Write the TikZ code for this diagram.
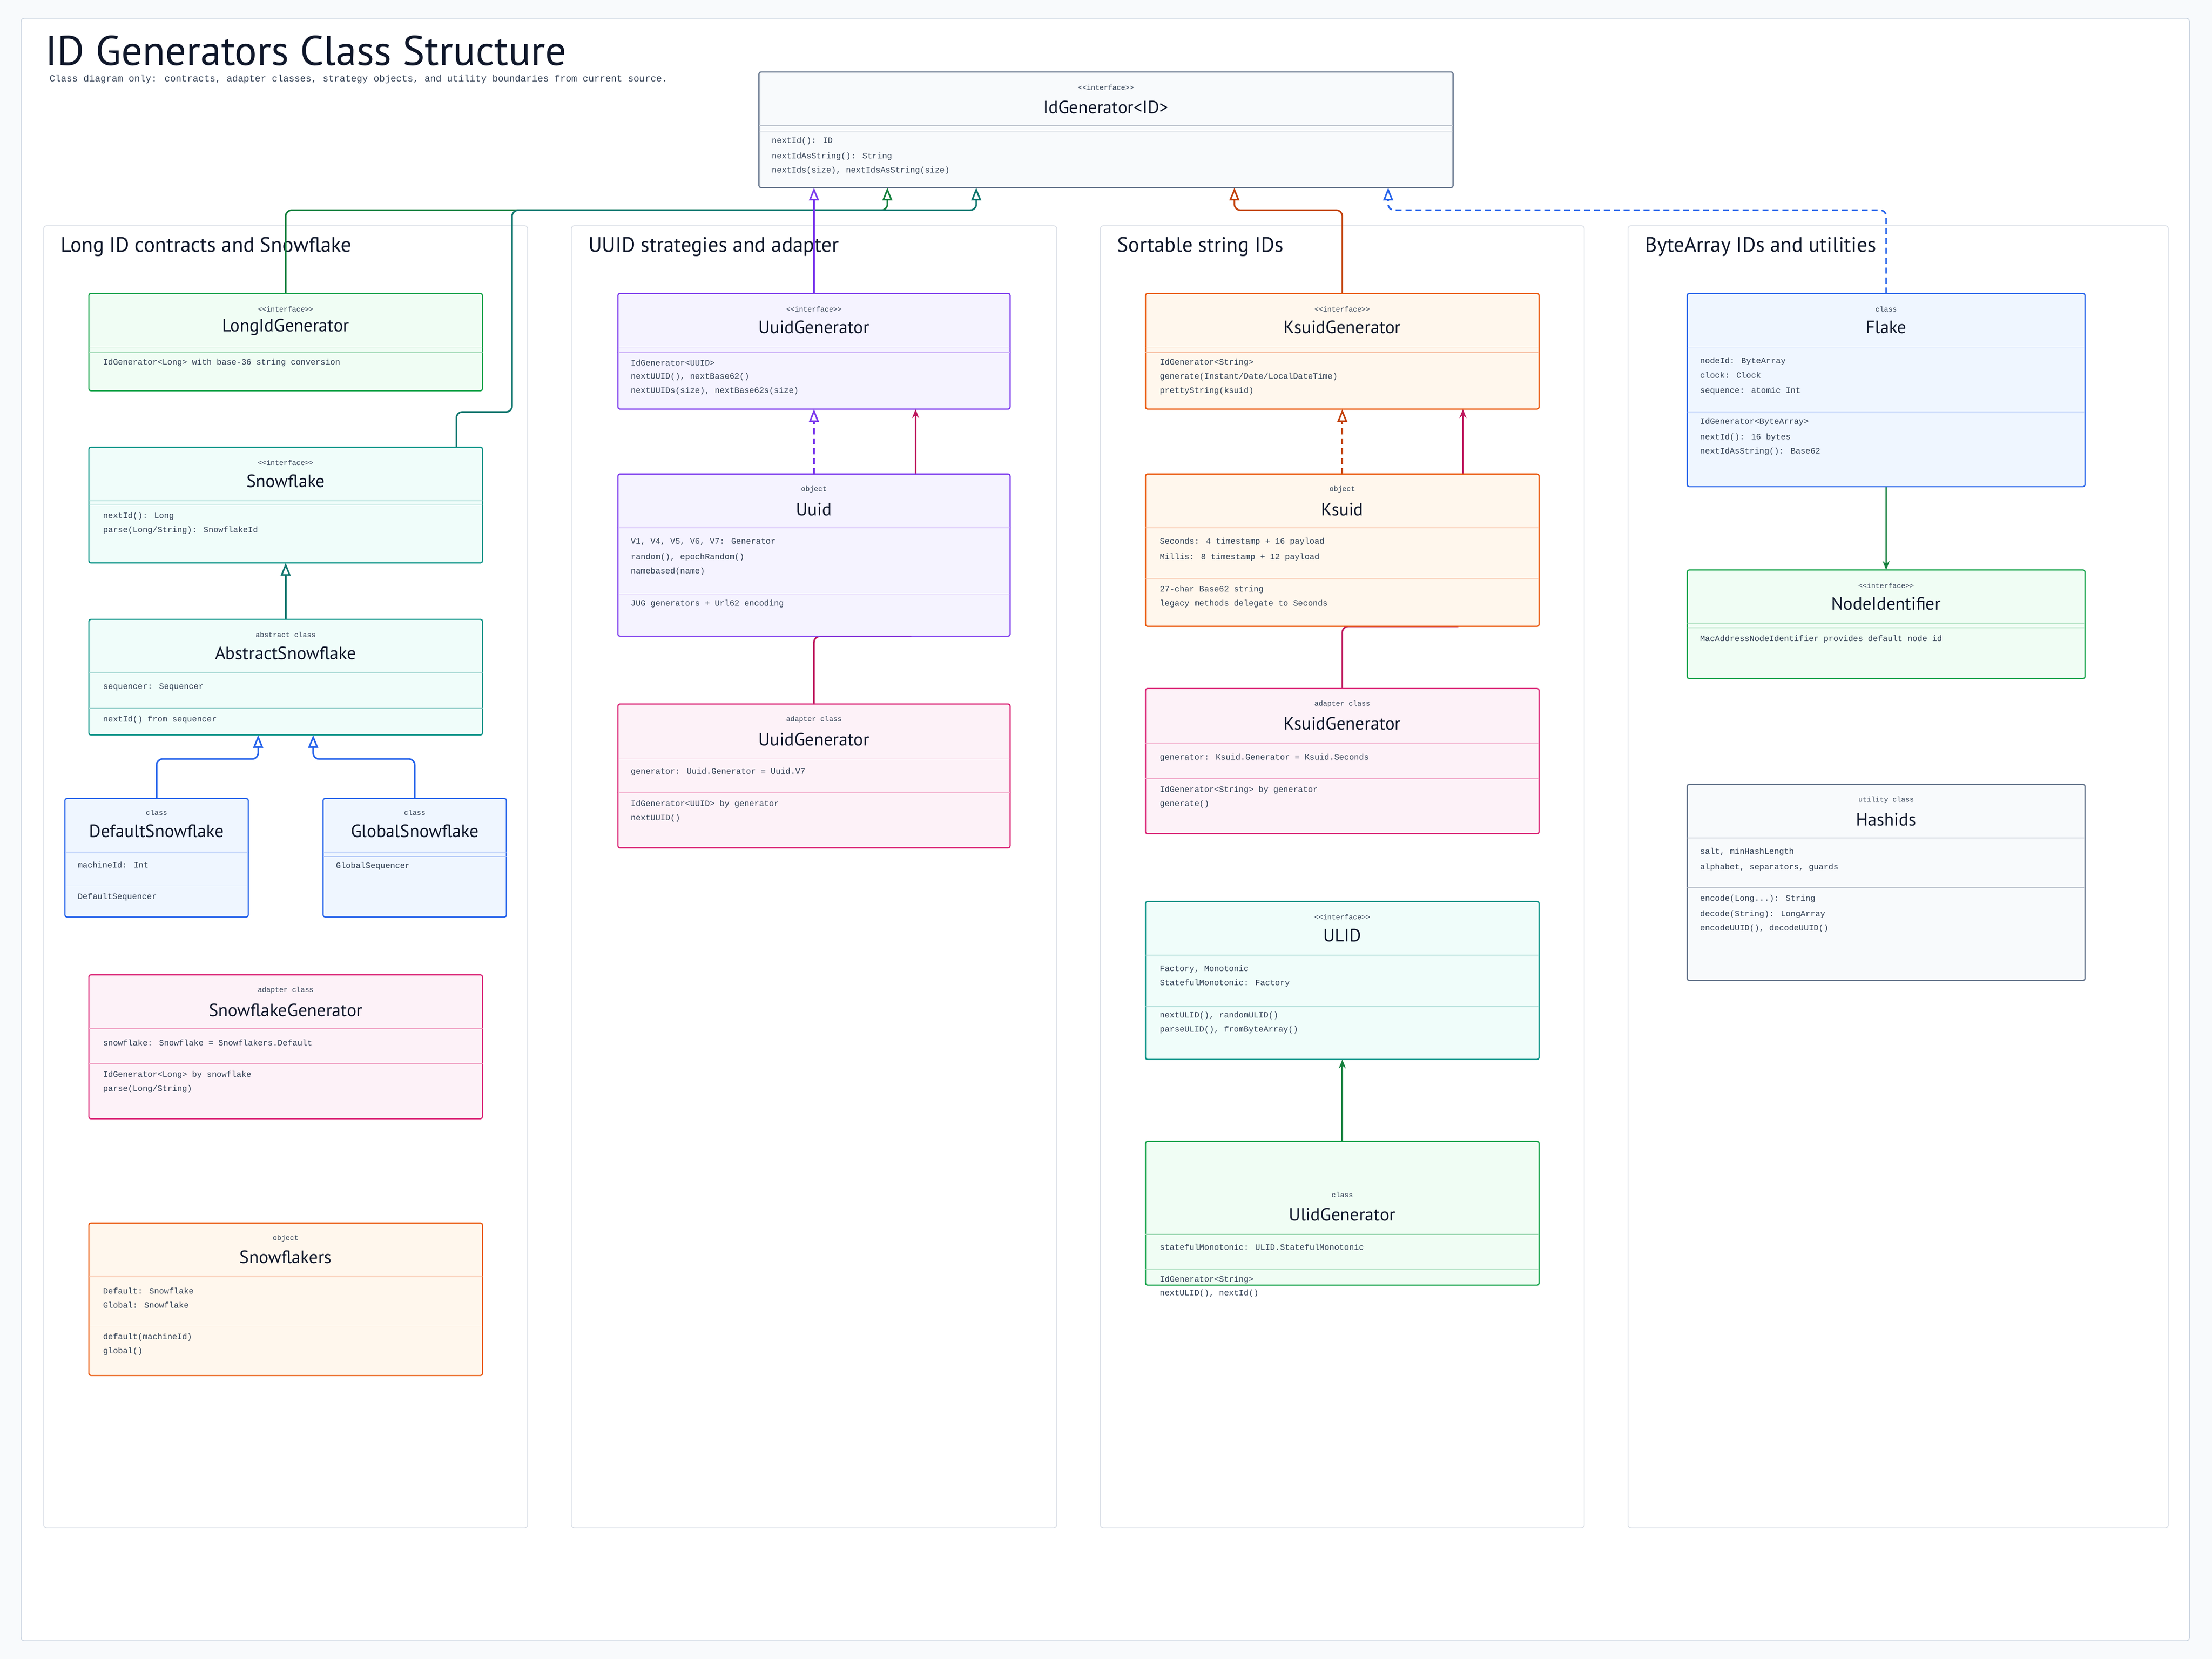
\documentclass[tikz,border=0pt]{standalone}
\usepackage{fontspec}
\setmainfont{PT Sans}
\newfontfamily\mono{Liberation Mono}
\usetikzlibrary{arrows.meta,fit}
\definecolor{bg}{HTML}{F8FAFC}
\definecolor{frame}{HTML}{CBD5E1}
\definecolor{lane}{HTML}{D9DEE6}
\definecolor{ink}{HTML}{0F172A}
\definecolor{sub}{HTML}{334155}
\definecolor{cgray}{HTML}{64748B}\definecolor{cgrayF}{HTML}{F8FAFC}
\definecolor{cgreen}{HTML}{16A34A}\definecolor{cgreenF}{HTML}{F0FDF4}
\definecolor{cteal}{HTML}{0D9488}\definecolor{ctealF}{HTML}{F0FDFA}
\definecolor{cpurple}{HTML}{7C3AED}\definecolor{cpurpleF}{HTML}{F5F3FF}
\definecolor{corange}{HTML}{EA580C}\definecolor{corangeF}{HTML}{FFF7ED}
\definecolor{cpink}{HTML}{DB2777}\definecolor{cpinkF}{HTML}{FDF2F8}
\definecolor{cblue}{HTML}{2563EB}\definecolor{cblueF}{HTML}{EFF6FF}
\definecolor{egreen}{HTML}{15803D}
\definecolor{eteal}{HTML}{0F766E}
\definecolor{eorange}{HTML}{C2410C}
\definecolor{epink}{HTML}{BE185D}
\definecolor{eblue}{HTML}{1D4ED8}
\tikzset{
  box/.style={draw=c#1,fill=c#1F,line width=1.2pt,rounded corners=2pt,inner sep=0pt},
  ph/.style={inner sep=0pt,outer sep=0pt},
  stereo/.style={font=\mono\fontsize{7.2}{8}\selectfont,text=sub},
  cname/.style={font=\fontsize{18}{20}\selectfont,text=ink},
  mem/.style={font=\mono\fontsize{8.3}{9}\selectfont,text=sub,anchor=west,inner sep=0pt},
  lanet/.style={font=\fontsize{21}{24}\selectfont,text=ink,anchor=west,inner sep=0pt},
  edge/.style={line width=1.6pt,rounded corners=6pt},
  inh/.style={edge,-{Triangle[open,width=10pt,length=13pt,fill=white]}},
  assoc/.style={edge,-{Stealth[length=9pt,width=7pt]}},
}
\newcommand\ubox[6]{\node[box=#6,fit={(#2,#3)(#4,#5)}] (#1) {};}
\newcommand\sepl[4]{\draw[c#4!40,line width=0.8pt] (#1,#3)--(#2,#3);}
\begin{document}
\begin{tikzpicture}[x=0.05cm,y=-0.05cm]
\useasboundingbox (0,0) rectangle (1568,1176);
\fill[bg] (0,0) rectangle (1568,1176);
\draw[frame,fill=white,line width=0.8pt,rounded corners=3pt] (15,13) rectangle (1552,1163);
\node[anchor=west,inner sep=0pt,font=\fontsize{42}{46}\selectfont,text=ink] (title) at (32,36) {ID Generators Class Structure};
\node[anchor=west,inner sep=0pt,font=\mono\fontsize{9.5}{10}\selectfont,text=sub] (subt) at (35,56) {Class diagram only: contracts, adapter classes, strategy objects, and utility boundaries from current source.};
% lanes
\foreach \a/\b in {31/374,405/749,780/1123,1154/1537}
  \draw[lane,line width=0.8pt,rounded corners=3pt] (\a,160) rectangle (\b,1083);
\node[lanet] (t1) at (43,175) {Long ID contracts and Snowflake};
\node[lanet] (t2) at (417,175) {UUID strategies and adapter};
\node[lanet] (t3) at (792,175) {Sortable string IDs};
\node[lanet] (t4) at (1166,175) {ByteArray IDs and utilities};
% junction coordinates
\coordinate (j1) at (629,149);
\coordinate (s1) at (363,292);
\coordinate (s2) at (692,149);
\coordinate (k1) at (875,149);
\coordinate (f1) at (984,149);
\coordinate (d1) at (183,538);
\coordinate (g1) at (222,538);
\coordinate (p1) at (649,451);
\coordinate (q1) at (1037,444);
% placeholders for anchors
\node[ph,fit={(538,51)(1030,133)}] (idg) {};
\node[ph,fit={(63,208)(342,277)}] (lig) {};
\node[ph,fit={(63,317)(342,399)}] (snf) {};
\node[ph,fit={(63,439)(342,521)}] (asf) {};
\node[ph,fit={(46,566)(176,650)}] (dsf) {};
\node[ph,fit={(229,566)(359,650)}] (gsf) {};
\node[ph,fit={(438,208)(716,290)}] (uig) {};
\node[ph,fit={(438,336)(716,451)}] (uid) {};
\node[ph,fit={(438,499)(716,601)}] (uad) {};
\node[ph,fit={(812,208)(1091,290)}] (kig) {};
\node[ph,fit={(812,336)(1091,444)}] (ksd) {};
\node[ph,fit={(812,488)(1091,591)}] (kad) {};
\node[ph,fit={(812,639)(1091,751)}] (uli) {};
\node[ph,fit={(812,809)(1091,911)}] (ugn) {};
\node[ph,fit={(1196,208)(1478,345)}] (flk) {};
\node[ph,fit={(1196,404)(1478,481)}] (nid) {};
% edges
\draw[inh,egreen] (lig.north) |- (j1) -- (j1 |- idg.south);
\draw[inh,eteal] ([xshift=6.05cm]snf.north) |- (s1) |- (s2) -- (s2 |- idg.south);
\draw[inh,cpurple] (uig.north) -- (uig.north |- idg.south);
\draw[inh,eorange] (kig.north) |- (k1) -- (k1 |- idg.south);
\draw[inh,cblue,dash pattern=on 6pt off 4pt] (flk.north) |- (f1) -- (f1 |- idg.south);
\draw[inh,eteal] (asf.north) -- (snf.south);
\draw[inh,cblue] (dsf.north) |- (d1) -- (d1 |- asf.south);
\draw[inh,cblue] (gsf.north) |- (g1) -- (g1 |- asf.south);
\draw[inh,cpurple,dash pattern=on 6pt off 4pt] (uid.north) -- (uig.south);
\draw[assoc,epink] (uad.north) |- (p1) -- (p1 |- uig.south);
\draw[inh,eorange,dash pattern=on 6pt off 4pt] (ksd.north) -- (kig.south);
\draw[assoc,epink] (kad.north) |- (q1) -- (q1 |- kig.south);
\draw[assoc,egreen] (ugn.north) -- (uli.south);
\draw[assoc,egreen] (flk.south) -- (nid.north);
% ---- boxes
% IdGenerator
\ubox{idgB}{538}{51}{1030}{133}{gray}
\node[stereo] (idg-s) at (784,62) {<<interface>>};
\node[cname] (idg-n) at (784,76) {IdGenerator<ID>};
\sepl{538}{1030}{89}{gray}\sepl{538}{1030}{93}{gray}
\node[mem] (idg-m1) at (547,100) {nextId(): ID};
\node[mem] (idg-m2) at (547,111) {nextIdAsString(): String};
\node[mem] (idg-m3) at (547,121) {nextIds(size), nextIdsAsString(size)};
% LongIdGenerator
\ubox{ligB}{63}{208}{342}{277}{green}
\node[stereo] (lig-s) at (202.5,219) {<<interface>>};
\node[cname] (lig-n) at (202.5,232) {LongIdGenerator};
\sepl{63}{342}{246}{green}\sepl{63}{342}{250}{green}
\node[mem] (lig-m1) at (73,257) {IdGenerator<Long> with base-36 string conversion};
% Snowflake
\ubox{snfB}{63}{317}{342}{399}{teal}
\node[stereo] (snf-s) at (202.5,328) {<<interface>>};
\node[cname] (snf-n) at (202.5,341) {Snowflake};
\sepl{63}{342}{355}{teal}\sepl{63}{342}{358}{teal}
\node[mem] (snf-m1) at (73,366) {nextId(): Long};
\node[mem] (snf-m2) at (73,376) {parse(Long/String): SnowflakeId};
% AbstractSnowflake
\ubox{asfB}{63}{439}{342}{521}{teal}
\node[stereo] (asf-s) at (202.5,450) {abstract class};
\node[cname] (asf-n) at (202.5,463) {AbstractSnowflake};
\sepl{63}{342}{477}{teal}
\node[mem] (asf-m1) at (73,487) {sequencer: Sequencer};
\sepl{63}{342}{502}{teal}
\node[mem] (asf-m2) at (73,510) {nextId() from sequencer};
% DefaultSnowflake
\ubox{dsfB}{46}{566}{176}{650}{blue}
\node[stereo] (dsf-s) at (111,576) {class};
\node[cname] (dsf-n) at (111,589) {DefaultSnowflake};
\sepl{46}{176}{604}{blue}
\node[mem] (dsf-m1) at (55,613) {machineId: Int};
\sepl{46}{176}{628}{blue}
\node[mem] (dsf-m2) at (55,636) {DefaultSequencer};
% GlobalSnowflake
\ubox{gsfB}{229}{566}{359}{650}{blue}
\node[stereo] (gsf-s) at (294,576) {class};
\node[cname] (gsf-n) at (294,589) {GlobalSnowflake};
\sepl{229}{359}{604}{blue}\sepl{229}{359}{607}{blue}
\node[mem] (gsf-m1) at (238,614) {GlobalSequencer};
% SnowflakeGenerator
\ubox{sfgB}{63}{691}{342}{793}{pink}
\node[stereo] (sfg-s) at (202.5,702) {adapter class};
\node[cname] (sfg-n) at (202.5,716) {SnowflakeGenerator};
\sepl{63}{342}{729}{pink}
\node[mem] (sfg-m1) at (73,739) {snowflake: Snowflake = Snowflakers.Default};
\sepl{63}{342}{754}{pink}
\node[mem] (sfg-m2) at (73,762) {IdGenerator<Long> by snowflake};
\node[mem] (sfg-m3) at (73,772) {parse(Long/String)};
% Snowflakers
\ubox{sfkB}{63}{867}{342}{975}{orange}
\node[stereo] (sfk-s) at (202.5,878) {object};
\node[cname] (sfk-n) at (202.5,891) {Snowflakers};
\sepl{63}{342}{905}{orange}
\node[mem] (sfk-m1) at (73,915) {Default: Snowflake};
\node[mem] (sfk-m2) at (73,925) {Global: Snowflake};
\sepl{63}{342}{940}{orange}
\node[mem] (sfk-m3) at (73,948) {default(machineId)};
\node[mem] (sfk-m4) at (73,958) {global()};
% UuidGenerator iface
\ubox{uigB}{438}{208}{716}{290}{purple}
\node[stereo] (uig-s) at (577,219) {<<interface>>};
\node[cname] (uig-n) at (577,232) {UuidGenerator};
\sepl{438}{716}{246}{purple}\sepl{438}{716}{250}{purple}
\node[mem] (uig-m1) at (447,257) {IdGenerator<UUID>};
\node[mem] (uig-m2) at (447,267) {nextUUID(), nextBase62()};
\node[mem] (uig-m3) at (447,277) {nextUUIDs(size), nextBase62s(size)};
% Uuid object
\ubox{uidB}{438}{336}{716}{451}{purple}
\node[stereo] (uid-s) at (577,347) {object};
\node[cname] (uid-n) at (577,361) {Uuid};
\sepl{438}{716}{374}{purple}
\node[mem] (uid-m1) at (447,384) {V1, V4, V5, V6, V7: Generator};
\node[mem] (uid-m2) at (447,395) {random(), epochRandom()};
\node[mem] (uid-m3) at (447,405) {namebased(name)};
\sepl{438}{716}{421}{purple}
\node[mem] (uid-m4) at (447,428) {JUG generators + Url62 encoding};
% UuidGenerator adapter
\ubox{uadB}{438}{499}{716}{601}{pink}
\node[stereo] (uad-s) at (577,510) {adapter class};
\node[cname] (uad-n) at (577,524) {UuidGenerator};
\sepl{438}{716}{538}{pink}
\node[mem] (uad-m1) at (447,547) {generator: Uuid.Generator = Uuid.V7};
\sepl{438}{716}{562}{pink}
\node[mem] (uad-m2) at (447,570) {IdGenerator<UUID> by generator};
\node[mem] (uad-m3) at (447,580) {nextUUID()};
% KsuidGenerator iface
\ubox{kigB}{812}{208}{1091}{290}{orange}
\node[stereo] (kig-s) at (951.5,219) {<<interface>>};
\node[cname] (kig-n) at (951.5,232) {KsuidGenerator};
\sepl{812}{1091}{246}{orange}\sepl{812}{1091}{250}{orange}
\node[mem] (kig-m1) at (822,257) {IdGenerator<String>};
\node[mem] (kig-m2) at (822,267) {generate(Instant/Date/LocalDateTime)};
\node[mem] (kig-m3) at (822,277) {prettyString(ksuid)};
% Ksuid
\ubox{ksdB}{812}{336}{1091}{444}{orange}
\node[stereo] (ksd-s) at (951.5,347) {object};
\node[cname] (ksd-n) at (951.5,361) {Ksuid};
\sepl{812}{1091}{374}{orange}
\node[mem] (ksd-m1) at (822,384) {Seconds: 4 timestamp + 16 payload};
\node[mem] (ksd-m2) at (822,395) {Millis: 8 timestamp + 12 payload};
\sepl{812}{1091}{410}{orange}
\node[mem] (ksd-m3) at (822,418) {27-char Base62 string};
\node[mem] (ksd-m4) at (822,428) {legacy methods delegate to Seconds};
% KsuidGenerator adapter
\ubox{kadB}{812}{488}{1091}{591}{pink}
\node[stereo] (kad-s) at (951.5,499) {adapter class};
\node[cname] (kad-n) at (951.5,513) {KsuidGenerator};
\sepl{812}{1091}{527}{pink}
\node[mem] (kad-m1) at (822,537) {generator: Ksuid.Generator = Ksuid.Seconds};
\sepl{812}{1091}{552}{pink}
\node[mem] (kad-m2) at (822,560) {IdGenerator<String> by generator};
\node[mem] (kad-m3) at (822,570) {generate()};
% ULID
\ubox{uliB}{812}{639}{1091}{751}{teal}
\node[stereo] (uli-s) at (951.5,650) {<<interface>>};
\node[cname] (uli-n) at (951.5,663) {ULID};
\sepl{812}{1091}{677}{teal}
\node[mem] (uli-m1) at (822,687) {Factory, Monotonic};
\node[mem] (uli-m2) at (822,697) {StatefulMonotonic: Factory};
\sepl{812}{1091}{713}{teal}
\node[mem] (uli-m3) at (822,720) {nextULID(), randomULID()};
\node[mem] (uli-m4) at (822,730) {parseULID(), fromByteArray()};
% UlidGenerator
\ubox{ugnB}{812}{809}{1091}{911}{green}
\node[stereo] (ugn-s) at (951.5,847) {class};
\node[cname] (ugn-n) at (951.5,861) {UlidGenerator};
\sepl{812}{1091}{875}{green}
\node[mem] (ugn-m1) at (822,884) {statefulMonotonic: ULID.StatefulMonotonic};
\sepl{812}{1091}{900}{green}
\node[mem] (ugn-m2) at (822,907) {IdGenerator<String>};
\node[mem] (ugn-m3) at (822,917) {nextULID(), nextId()};
% Flake
\ubox{flkB}{1196}{208}{1478}{345}{blue}
\node[stereo] (flk-s) at (1337,219) {class};
\node[cname] (flk-n) at (1337,232) {Flake};
\sepl{1196}{1478}{246}{blue}
\node[mem] (flk-m1) at (1205,256) {nodeId: ByteArray};
\node[mem] (flk-m2) at (1205,266) {clock: Clock};
\node[mem] (flk-m3) at (1205,277) {sequence: atomic Int};
\sepl{1196}{1478}{292}{blue}
\node[mem] (flk-m4) at (1205,299) {IdGenerator<ByteArray>};
\node[mem] (flk-m5) at (1205,310) {nextId(): 16 bytes};
\node[mem] (flk-m6) at (1205,320) {nextIdAsString(): Base62};
% NodeIdentifier
\ubox{nidB}{1196}{404}{1478}{481}{green}
\node[stereo] (nid-s) at (1337,415) {<<interface>>};
\node[cname] (nid-n) at (1337,428) {NodeIdentifier};
\sepl{1196}{1478}{442}{green}\sepl{1196}{1478}{445}{green}
\node[mem] (nid-m1) at (1205,453) {MacAddressNodeIdentifier provides default node id};
% Hashids
\ubox{hshB}{1196}{556}{1478}{695}{gray}
\node[stereo] (hsh-s) at (1337,567) {utility class};
\node[cname] (hsh-n) at (1337,581) {Hashids};
\sepl{1196}{1478}{594}{gray}
\node[mem] (hsh-m1) at (1205,604) {salt, minHashLength};
\node[mem] (hsh-m2) at (1205,615) {alphabet, separators, guards};
\sepl{1196}{1478}{629}{gray}
\node[mem] (hsh-m3) at (1205,637) {encode(Long...): String};
\node[mem] (hsh-m4) at (1205,648) {decode(String): LongArray};
\node[mem] (hsh-m5) at (1205,658) {encodeUUID(), decodeUUID()};
\end{tikzpicture}
\end{document}
